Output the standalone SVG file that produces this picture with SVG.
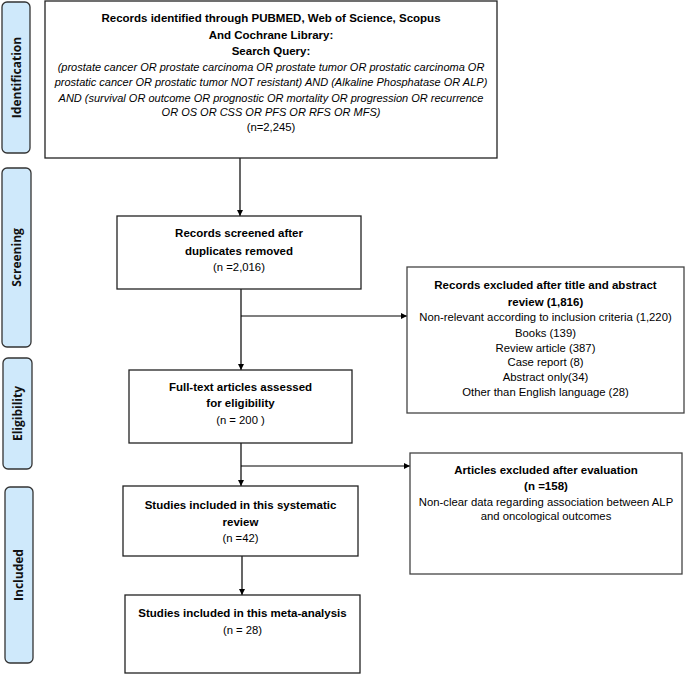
<svg xmlns="http://www.w3.org/2000/svg" width="685" height="676" viewBox="0 0 685 676">
<style>
.box{fill:#fff;stroke:#222;stroke-width:1.3}
.rbox{fill:#fff;stroke:#444;stroke-width:1.3}
.side{fill:#cfe9fb;stroke:#333;stroke-width:1.3}
.lbl{font-family:"Open Sans","DejaVu Sans",sans-serif;font-weight:bold;font-size:12px;fill:#111;text-anchor:middle}
.b{font-family:"Liberation Sans",Arial,sans-serif;font-weight:bold;font-size:11.5px;fill:#000;text-anchor:middle}
.n{font-family:"Liberation Sans",Arial,sans-serif;font-size:11.3px;fill:#000;text-anchor:middle}
.i{font-family:"Liberation Sans",Arial,sans-serif;font-style:italic;font-size:11px;fill:#000;text-anchor:middle}
.c{fill:none;stroke:#000;stroke-width:1.2}
</style>
<defs>
<marker id="ah" viewBox="0 0 10 10" refX="10" refY="5" markerWidth="6" markerHeight="6" markerUnits="userSpaceOnUse" orient="auto">
<path d="M0,0 L10,5 L0,10 z" fill="#000"/>
</marker>
</defs>
<rect width="685" height="676" fill="#fff"/>

<g id="phase-identification">
<rect class="side" x="2" y="2" width="28" height="151" rx="5"/>
<text class="lbl" transform="translate(21,77.5) rotate(-90)">Identification</text>
</g>
<g id="phase-screening">
<rect class="side" x="2" y="168" width="29" height="179" rx="5"/>
<text class="lbl" transform="translate(21,257.5) rotate(-90)">Screening</text>
</g>
<g id="phase-eligibility">
<rect class="side" x="3" y="358" width="29" height="111" rx="5"/>
<text class="lbl" transform="translate(22,413.5) rotate(-90)">Eligibility</text>
</g>
<g id="phase-included">
<rect class="side" x="5" y="487" width="28" height="176" rx="5"/>
<text class="lbl" transform="translate(23,575) rotate(-90)">Included</text>
</g>

<g id="connectors">
<line class="c" x1="240" y1="158" x2="240" y2="216" marker-end="url(#ah)"/>
<line class="c" x1="241" y1="289" x2="241" y2="370" marker-end="url(#ah)"/>
<line class="c" x1="241" y1="316" x2="407" y2="316" marker-end="url(#ah)"/>
<line class="c" x1="241" y1="443" x2="241" y2="486" marker-end="url(#ah)"/>
<line class="c" x1="241" y1="466" x2="410" y2="466" marker-end="url(#ah)"/>
<line class="c" x1="242" y1="556" x2="242" y2="595" marker-end="url(#ah)"/>
</g>

<g id="records-identified">
<rect class="box" x="45" y="1" width="452" height="157"/>
<text class="b" x="271" y="22">Records identified through PUBMED, Web of Science, Scopus</text>
<text class="b" x="271" y="39">And Cochrane Library:</text>
<text class="b" x="271" y="55">Search Query:</text>
<text class="i" x="271" y="71">(prostate cancer OR prostate carcinoma OR prostate tumor OR prostatic carcinoma OR</text>
<text class="i" x="271" y="86">prostatic cancer OR prostatic tumor NOT resistant) AND (Alkaline Phosphatase OR ALP)</text>
<text class="i" x="271" y="102">AND (survival OR outcome OR prognostic OR mortality OR progression OR recurrence</text>
<text class="i" x="271" y="116">OR OS OR CSS OR PFS OR RFS OR MFS)</text>
<text class="n" x="271" y="131">(n=2,245)</text>
</g>

<g id="records-screened">
<rect class="box" x="117" y="216" width="244" height="73"/>
<text class="b" x="239" y="237">Records screened after</text>
<text class="b" x="239" y="255">duplicates removed</text>
<text class="n" x="239" y="271">(n =2,016)</text>
</g>

<g id="records-excluded">
<rect class="rbox" x="407" y="267" width="277" height="146"/>
<text class="b" x="545.5" y="289">Records excluded after title and abstract</text>
<text class="b" x="545.5" y="306">review (1,816)</text>
<text class="n" x="545.5" y="321">Non-relevant according to inclusion criteria (1,220)</text>
<text class="n" x="545.5" y="336.5">Books (139)</text>
<text class="n" x="545.5" y="351.5">Review article (387)</text>
<text class="n" x="545.5" y="366">Case report (8)</text>
<text class="n" x="545.5" y="381">Abstract only(34)</text>
<text class="n" x="545.5" y="395.5">Other than English language (28)</text>
</g>

<g id="full-text">
<rect class="box" x="129" y="370" width="223" height="73"/>
<text class="b" x="240.5" y="391">Full-text articles assessed</text>
<text class="b" x="240.5" y="407">for eligibility</text>
<text class="n" x="240.5" y="424">(n = 200 )</text>
</g>

<g id="articles-excluded">
<rect class="rbox" x="410" y="453" width="272" height="121"/>
<text class="b" x="546" y="474">Articles excluded after evaluation</text>
<text class="b" x="546" y="490">(n =158)</text>
<text class="n" x="546" y="506">Non-clear data regarding association between ALP</text>
<text class="n" x="546" y="520">and oncological outcomes</text>
</g>

<g id="systematic-review">
<rect class="box" x="123" y="486" width="235" height="70"/>
<text class="b" x="240.5" y="509">Studies included in this systematic</text>
<text class="b" x="240.5" y="526">review</text>
<text class="n" x="240.5" y="542">(n =42)</text>
</g>

<g id="meta-analysis">
<rect class="box" x="125" y="595" width="235" height="78"/>
<text class="b" x="242.5" y="617">Studies included in this meta-analysis</text>
<text class="n" x="242.5" y="634">(n = 28)</text>
</g>
</svg>
